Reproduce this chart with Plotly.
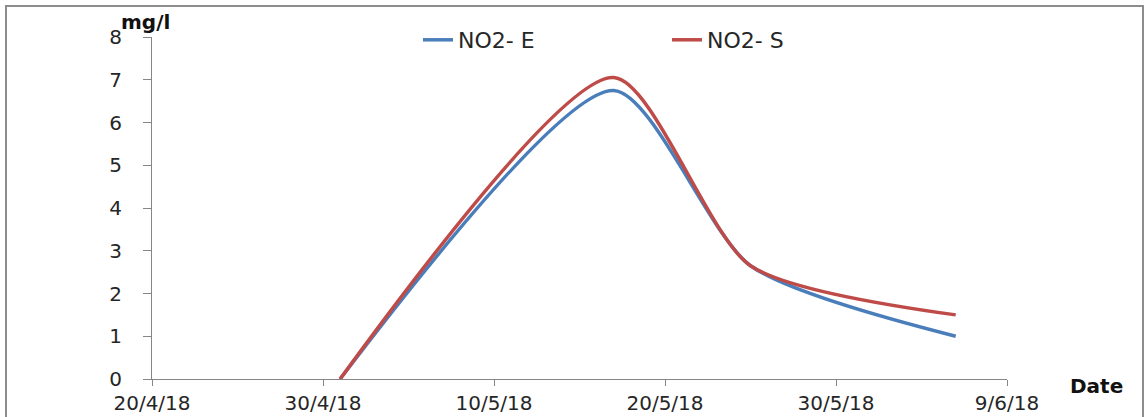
import plotly.graph_objects as go

# Data
dates = ["2018-05-01", "2018-05-17", "2018-05-25", "2018-06-06"]
no2_e = [0.0, 6.75, 2.65, 1.0]
no2_s = [0.0, 7.05, 2.65, 1.5]

x_tick_vals = ["2018-04-20", "2018-04-30", "2018-05-10", "2018-05-20", "2018-05-30", "2018-06-09"]
x_tick_text = ["20/4/18", "30/4/18", "10/5/18", "20/5/18", "30/5/18", "9/6/18"]
y_tick_vals = [0, 1, 2, 3, 4, 5, 6, 7, 8]

FONT = "DejaVu Sans"
TXT = "#262626"
AX = "#868686"

W, H = 1147, 417
ML, MR, MT, MB = 152, 140, 37, 38
PW, PH = W - ML - MR, H - MT - MB


def px2x(px):
    return (px - ML) / PW


def px2y(py):
    return (H - MB - py) / PH


fig = go.Figure()
fig.add_trace(go.Scatter(
    x=dates, y=no2_e, name="NO2- E", mode="lines",
    line=dict(color="#4A7EBB", width=3.5, shape="spline", smoothing=0.7),
))
fig.add_trace(go.Scatter(
    x=dates, y=no2_s, name="NO2- S", mode="lines",
    line=dict(color="#BE4B48", width=3.5, shape="spline", smoothing=0.7),
))

fig.update_layout(
    width=W, height=H,
    margin=dict(l=ML, r=MR, t=MT, b=MB, pad=0, autoexpand=False),
    paper_bgcolor="white", plot_bgcolor="white",
    font=dict(family=FONT, size=20, color=TXT),
    showlegend=True,
    legend=dict(
        orientation="h", x=px2x(418), xanchor="left", y=px2y(40), yanchor="middle",
        entrywidth=204, entrywidthmode="pixels",
        font=dict(family=FONT, size=22, color=TXT),
        bgcolor="rgba(0,0,0,0)", itemwidth=30,
    ),
    xaxis=dict(
        type="date", range=["2018-04-20", "2018-06-09"],
        tickmode="array", tickvals=x_tick_vals, ticktext=x_tick_text,
        ticks="outside", ticklen=6, tickcolor=AX, tickwidth=1,
        showline=True, linecolor=AX, linewidth=1,
        showgrid=False, zeroline=False, automargin=False,
        tickfont=dict(family=FONT, size=20, color=TXT),
        ticklabelstandoff=0,
    ),
    yaxis=dict(
        range=[0, 8], tickmode="array", tickvals=y_tick_vals,
        ticks="outside", ticklen=8, tickcolor=AX, tickwidth=1,
        showline=True, linecolor=AX, linewidth=1,
        showgrid=False, zeroline=False, automargin=False,
        tickfont=dict(family=FONT, size=20, color=TXT),
        ticklabelstandoff=17,
    ),
    shapes=[dict(
        type="rect", xref="paper", yref="paper",
        x0=px2x(6), x1=px2x(1143), y0=px2y(425), y1=px2y(6),
        line=dict(color="#8C8C8C", width=2), fillcolor="rgba(0,0,0,0)", layer="below",
    )],
    annotations=[
        dict(text="<b>mg/l</b>", xref="paper", yref="paper", x=px2x(145), y=px2y(22),
             xanchor="center", yanchor="middle", showarrow=False,
             font=dict(family=FONT, size=20, color="#111111")),
        dict(text="<b>Date</b>", xref="paper", yref="paper", x=px2x(1096), y=px2y(386),
             xanchor="center", yanchor="middle", showarrow=False,
             font=dict(family=FONT, size=20, color="#111111")),
    ],
)

fig.write_html("out.html")
